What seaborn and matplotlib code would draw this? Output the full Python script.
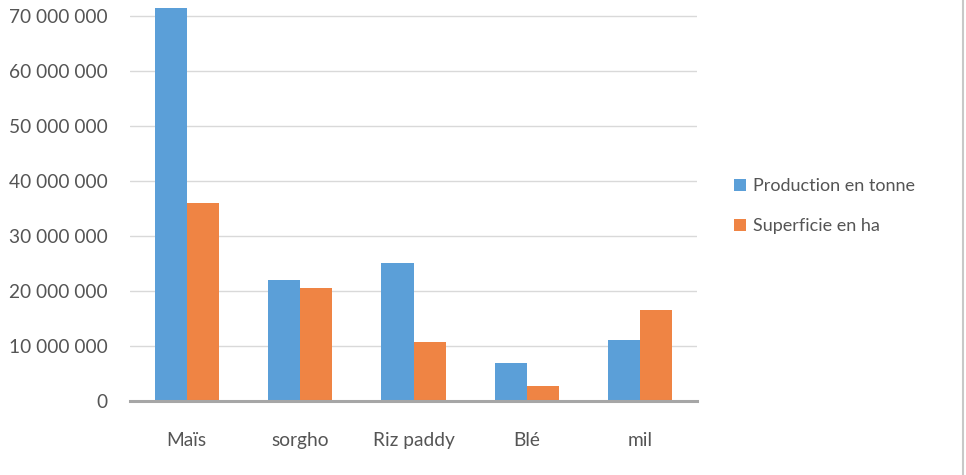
import matplotlib
matplotlib.use("Agg")
import matplotlib.pyplot as plt
from matplotlib.ticker import FuncFormatter, MultipleLocator
from matplotlib.lines import Line2D
import seaborn as sns
import pandas as pd

# Cereal crops: production (tonnes) and cultivated area (hectares)
cultures = ["Maïs", "sorgho", "Riz paddy", "Blé", "mil"]
production_tonne = [71_500_000, 22_000_000, 25_100_000, 6_850_000, 11_100_000]
superficie_ha = [36_000_000, 20_600_000, 10_800_000, 2_700_000, 16_500_000]
series_names = ["Production en tonne", "Superficie en ha"]

df = pd.DataFrame({
    "culture": cultures * 2,
    "valeur": production_tonne + superficie_ha,
    "serie": [series_names[0]] * len(cultures) + [series_names[1]] * len(cultures),
})

sns.set_theme(style="white")
plt.rcParams["font.family"] = ["Lato", "DejaVu Sans"]

palette = {series_names[0]: "#5b9fd8", series_names[1]: "#ef8444"}
text_grey = "#555555"

fig = plt.figure(figsize=(9.66, 4.75), dpi=100)
ax = fig.add_axes([0.1346, 0.1558, 0.587, 0.840])

sns.barplot(data=df, x="culture", y="valeur", hue="serie", order=cultures,
            hue_order=series_names, palette=palette, width=0.566, gap=0,
            saturation=1, linewidth=0, legend=False, ax=ax)

ax.set_ylim(0, 72_600_000)
ax.set_xlim(-0.5, len(cultures) - 0.5)
ax.yaxis.set_major_locator(MultipleLocator(10_000_000))
ax.yaxis.set_major_formatter(FuncFormatter(lambda v, _: f"{int(v):,}".replace(",", " ")))
ax.grid(axis="y", color="#d9d9d9", linewidth=1.0)
ax.set_axisbelow(True)
for side in ["top", "right", "left"]:
    ax.spines[side].set_visible(False)
ax.spines["bottom"].set_color("#a6a6a6")
ax.spines["bottom"].set_linewidth(2.2)
ax.set_xlabel("")
ax.set_ylabel("")
ax.tick_params(axis="y", length=0, pad=16, labelsize=13.8, labelcolor=text_grey)
ax.tick_params(axis="x", length=0, pad=22, labelsize=13.8, labelcolor=text_grey)

handles = [Line2D([], [], marker="s", linestyle="", markersize=8,
                  markerfacecolor=palette[s], markeredgewidth=0) for s in series_names]
fig.legend(handles, series_names, loc="center left", bbox_to_anchor=(0.742, 0.566),
           frameon=False, fontsize=13, labelcolor=text_grey, handlelength=0.8,
           handletextpad=0.3, labelspacing=1.3)

# thin frame edge on the right
fig.add_artist(Line2D([0.997, 0.997], [0, 1], transform=fig.transFigure,
                      color="#c8c8c8", linewidth=1.5))

fig.savefig("out.png", dpi=100, facecolor="white")
